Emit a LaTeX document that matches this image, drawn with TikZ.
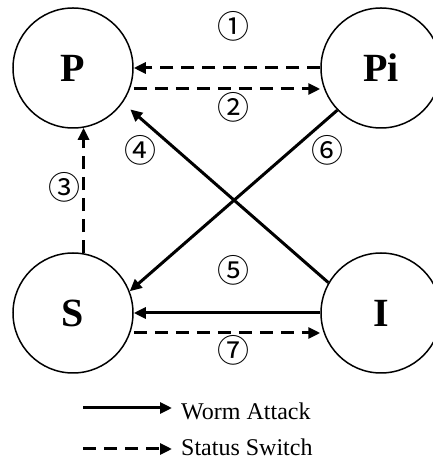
\documentclass[tikz,border=0pt]{standalone}
\usepackage{fontspec}
\setmainfont{Liberation Serif}
\newfontfamily\circfont{Noto Sans CJK JP}
\usetikzlibrary{arrows.meta}
\begin{document}
\begin{tikzpicture}[x=1pt,y=1pt,
  state/.style={draw,circle,line width=1.5pt,minimum size=120pt,inner sep=0pt,
    font=\fontsize{40}{40}\selectfont\bfseries},
  attack/.style={line width=3pt,-{Triangle[length=12pt,width=11pt]}},
  switch/.style={line width=3pt,dash pattern=on 13pt off 8pt,-{Triangle[length=12pt,width=11pt]}},
  num/.style={font=\circfont\fontsize{32}{32}\selectfont,inner sep=0pt},
  legtext/.style={font=\fontsize{24}{24}\selectfont,anchor=west,inner sep=0pt}]
\useasboundingbox (0,0) rectangle (433,460);
\node[state] (P) at (73,392) {\raisebox{-9pt}{P}};
\node[state] (Pi) at (381,392) {\raisebox{-9pt}{Pi}};
\node[state] (S) at (73,147) {\raisebox{-5pt}{S}};
\node[state] (I) at (381,147) {\raisebox{-5pt}{I}};
% edges
\draw[switch] (Pi.west) -- (P.east);
\draw[switch] ([yshift=-21pt]P.east) -- ([yshift=-21pt]Pi.west);
\draw[switch] (S.80) -- (P.-80);
\draw[attack,shorten >=10pt] (I.150) -- (P.-35);
\draw[attack] (I.west) -- (S.east);
\draw[attack] (Pi.224) -- (S.21);
\draw[switch] ([yshift=-20pt]S.east) -- ([yshift=-20pt]I.west);
% labels
\node[num] (n1) at (233,434) {①};
\node[num] (n2) at (233,353) {②};
\node[num] (n3) at (64,273) {③};
\node[num] (n4) at (140,310) {④};
\node[num] (n5) at (233,190) {⑤};
\node[num] (n6) at (327,310) {⑥};
\node[num] (n7) at (233,110) {⑦};
% legend
\coordinate (l1) at (83,52);
\coordinate (l2) at (83,11);
\node[legtext] (t1) at (181,49) {Worm Attack};
\node[legtext] (t2) at (181,13) {Status Switch};
\draw[attack] (l1) -- (l1 -| 172,0);
\draw[switch] (l2) -- (l2 -| 172,0);
\end{tikzpicture}
\end{document}
